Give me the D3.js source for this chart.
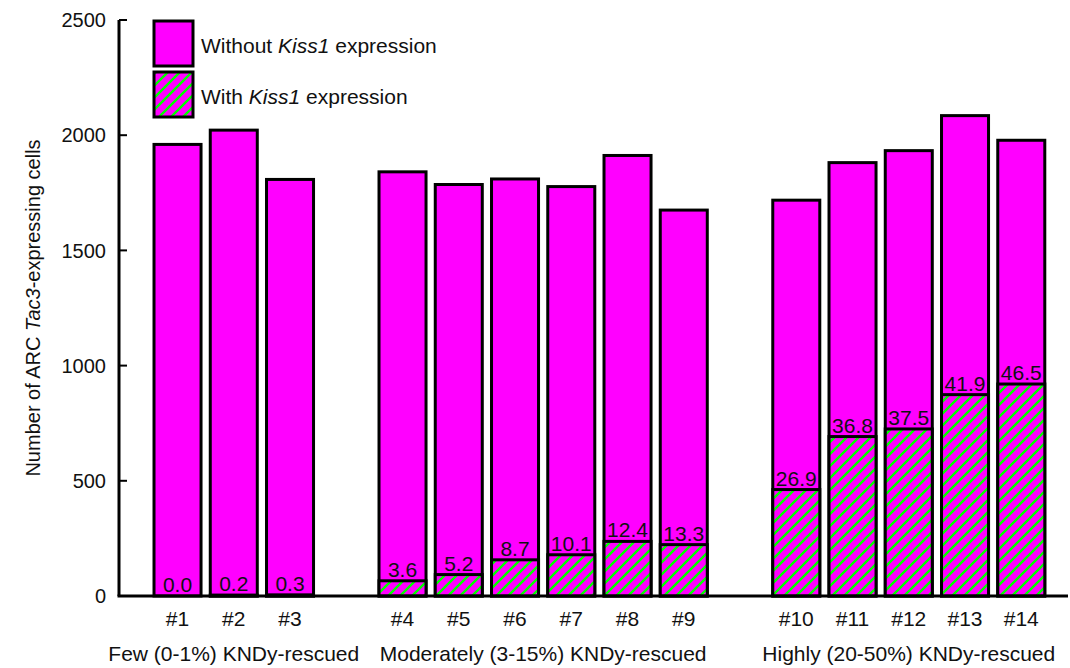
<!DOCTYPE html>
<html>
<head>
<meta charset="utf-8">
<script src="https://cdn.jsdelivr.net/npm/d3@7/dist/d3.min.js"></script>
<style>
  body { margin: 0; background: #fff; }
  svg text { font-family: "Liberation Sans", Arial, sans-serif; fill: #111; }
</style>
</head>
<body>
<svg id="chart" width="1070" height="668"></svg>
<script>
var mice = ["#1", "#2", "#3", "#4", "#5", "#6", "#7", "#8", "#9", "#10", "#11", "#12", "#13", "#14"];
var totalCells = [1960, 2022, 1808, 1841, 1786, 1810, 1777, 1912, 1675, 1718, 1881, 1933, 2085, 1978];
var kissCells = [0, 4, 5, 66, 93, 157, 179, 237, 223, 462, 692, 725, 874, 920];
var kissPct = ["0.0", "0.2", "0.3", "3.6", "5.2", "8.7", "10.1", "12.4", "13.3", "26.9", "36.8", "37.5", "41.9", "46.5"];
var groupNames = ["Few (0-1%) KNDy-rescued", "Moderately (3-15%) KNDy-rescued", "Highly (20-50%) KNDy-rescued"];
var groupMembers = [["#1", "#2", "#3"], ["#4", "#5", "#6", "#7", "#8", "#9"], ["#10", "#11", "#12", "#13", "#14"]];
var yTicks = [0, 500, 1000, 1500, 2000, 2500];

var svg = d3.select("#chart");
var x0 = 119, y0 = 596;

// slots, with an empty one between groups
var slots = [];
groupMembers.forEach(function(g, i) {
  if (i > 0) slots.push("gap" + i);
  g.forEach(function(m) { slots.push(m); });
});

var x = d3.scaleBand().domain(slots).range([149.4, 1049.4]).paddingInner(0.164).paddingOuter(0.082);
var y = d3.scaleLinear().domain([0, 2500]).range([y0, 20]);

var defs = svg.append("defs");
var pat = defs.append("pattern").attr("id", "hatch").attr("patternUnits", "userSpaceOnUse")
  .attr("width", 12).attr("height", 12);
pat.append("rect").attr("width", 12).attr("height", 12).attr("fill", "#ff00ff");
pat.append("path").attr("d", "M-3,15 L15,-3 M-9,9 L9,-9 M3,21 L21,3")
  .attr("stroke", "#00ff00").attr("stroke-width", 2.4);

var data = mice.map(function(m, i) {
  return { id: m, total: totalCells[i], kiss: kissCells[i], pct: kissPct[i] };
});

var bars = svg.append("g").selectAll("g").data(data).enter().append("g");
bars.append("rect")
  .attr("x", function(d) { return x(d.id); })
  .attr("y", function(d) { return y(d.total); })
  .attr("width", x.bandwidth())
  .attr("height", function(d) { return y0 - y(d.total); })
  .attr("fill", "#ff00ff").attr("stroke", "#000").attr("stroke-width", 3);
bars.filter(function(d) { return d.kiss > 0; }).append("rect")
  .attr("x", function(d) { return x(d.id); })
  .attr("y", function(d) { return y(d.kiss); })
  .attr("width", x.bandwidth())
  .attr("height", function(d) { return y0 - y(d.kiss); })
  .attr("fill", "url(#hatch)").attr("stroke", "#000").attr("stroke-width", 3);
bars.append("text")
  .attr("x", function(d) { return x(d.id) + x.bandwidth() / 2; })
  .attr("y", function(d) { return y(d.kiss) - 4; })
  .attr("text-anchor", "middle").attr("font-size", 21)
  .text(function(d) { return d.pct; });

// axes
svg.append("line").attr("x1", x0).attr("x2", x0).attr("y1", y(2500)).attr("y2", y0)
  .attr("stroke", "#000").attr("stroke-width", 3);
svg.append("line").attr("x1", x0 - 1.5).attr("x2", 1068).attr("y1", y0).attr("y2", y0)
  .attr("stroke", "#000").attr("stroke-width", 3);
var yt = svg.append("g").selectAll("g").data(yTicks).enter().append("g");
yt.append("line").attr("x1", x0).attr("x2", x0 + 8)
  .attr("y1", function(d) { return y(d); }).attr("y2", function(d) { return y(d); })
  .attr("stroke", "#000").attr("stroke-width", 2);
yt.append("text").attr("x", 106).attr("y", function(d) { return y(d); }).attr("dy", "0.36em")
  .attr("text-anchor", "end").attr("font-size", 20).text(function(d) { return d; });

svg.append("g").selectAll("text").data(mice).enter().append("text")
  .attr("x", function(d) { return x(d) + x.bandwidth() / 2; })
  .attr("y", 626).attr("text-anchor", "middle").attr("font-size", 21)
  .text(function(d) { return d; });

svg.append("g").selectAll("text").data(groupNames).enter().append("text")
  .attr("x", function(d, i) {
    var g = groupMembers[i];
    return (x(g[0]) + x(g[g.length - 1]) + x.bandwidth()) / 2;
  })
  .attr("y", 661).attr("text-anchor", "middle").attr("font-size", 21)
  .text(function(d) { return d; });

var yTitle = svg.append("text").attr("transform", "translate(40," + ((y(2500) + y0) / 2) + ") rotate(-90)")
  .attr("text-anchor", "middle").attr("font-size", 20);
yTitle.append("tspan").text("Number of ARC ");
yTitle.append("tspan").attr("font-style", "italic").text("Tac3");
yTitle.append("tspan").text("-expressing cells");

// legend
var legend = [
  { fill: "#ff00ff", pre: "Without ", y: 21 },
  { fill: "url(#hatch)", pre: "With ", y: 72 }
];
var lg = svg.append("g").selectAll("g").data(legend).enter().append("g");
lg.append("rect").attr("x", 154).attr("y", function(d) { return d.y; })
  .attr("width", 39).attr("height", 45)
  .attr("fill", function(d) { return d.fill; }).attr("stroke", "#000").attr("stroke-width", 3);
var lt = lg.append("text").attr("x", 201).attr("y", function(d) { return d.y + 32; }).attr("font-size", 21);
lt.append("tspan").text(function(d) { return d.pre; });
lt.append("tspan").attr("font-style", "italic").text("Kiss1");
lt.append("tspan").text(" expression");
</script>
</body>
</html>
